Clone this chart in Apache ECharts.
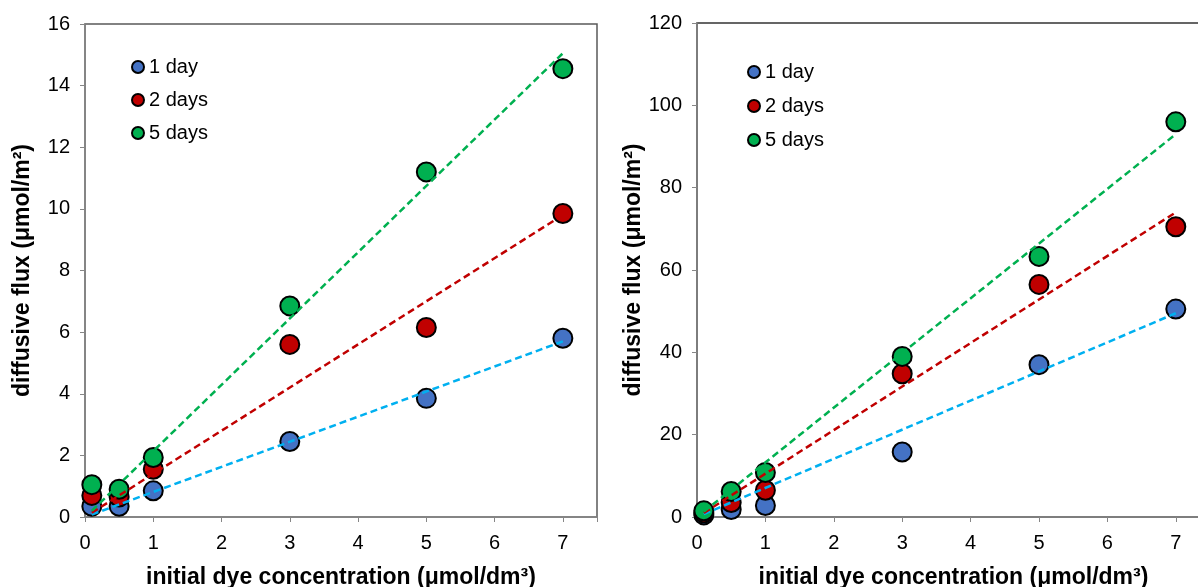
<!DOCTYPE html>
<html>
<head>
<meta charset="utf-8">
<script src="https://cdn.jsdelivr.net/npm/echarts@6/dist/echarts.min.js"></script>
<style>
  html, body { margin: 0; padding: 0; background: #fff; }
  #main { width: 1198px; height: 587px; }
</style>
</head>
<body>
<div id="main"></div>
<script>
// concentrations (x values)
var conc = [0.1, 0.5, 1, 3, 5, 7];
var seriesNames = ['1 day', '2 days', '5 days'];

// left chart values
var leftDay1 = [0.35, 0.35, 0.85, 2.45, 3.85, 5.8];
var leftDay2 = [0.7, 0.65, 1.55, 5.6, 6.15, 9.85];
var leftDay5 = [1.05, 0.9, 1.93, 6.85, 11.2, 14.55];
// left trend lines: value at x=0.1 and at x=7
var leftTrendDay1 = [0.08, 5.7];
var leftTrendDay2 = [0.14, 9.8];
var leftTrendDay5 = [0.2, 15.05];

// right chart values
var rightDay1 = [0.5, 1.8, 2.8, 15.8, 37, 50.5];
var rightDay2 = [1.0, 3.5, 6.5, 34.8, 56.5, 70.5];
var rightDay5 = [1.5, 6.2, 10.8, 39, 63.3, 96];
// right trend lines: value at x=0.1 and at x=7
var rightTrendDay1 = [0.7, 49.5];
var rightTrendDay2 = [1.0, 74];
var rightTrendDay5 = [1.3, 93];

var trendX = [0.1, 7];

var markerColors = ['#4472C4', '#C00000', '#00B050'];
var trendColors = ['#00B0F0', '#C00000', '#00B050'];

function pairs(xs, ys) {
    var out = [];
    for (var i = 0; i < xs.length; i++) {
        out.push([xs[i], ys[i]]);
    }
    return out;
}

function scatterSeries(name, idx, values, gridIdx) {
    return {
        name: name,
        type: 'scatter',
        xAxisIndex: gridIdx,
        yAxisIndex: gridIdx,
        symbolSize: 19,
        z: 3,
        itemStyle: { color: markerColors[idx], borderColor: '#000', borderWidth: 2, opacity: 1 },
        data: pairs(conc, values)
    };
}

function trendSeries(idx, values, gridIdx) {
    return {
        type: 'line',
        xAxisIndex: gridIdx,
        yAxisIndex: gridIdx,
        symbol: 'none',
        silent: true,
        z: 4,
        lineStyle: { color: trendColors[idx], width: 2.5, type: [7, 4] },
        data: pairs(trendX, values)
    };
}

var font = 'Liberation Sans, Arial, sans-serif';

function xAxisCfg(gridIdx) {
    return {
        type: 'value',
        gridIndex: gridIdx,
        min: 0,
        max: 7.5,
        interval: 1,
        name: 'initial dye concentration (μmol/dm³)',
        nameLocation: 'middle',
        nameGap: 49,
        nameTextStyle: { fontFamily: font, fontSize: 23, fontWeight: 'bold', color: '#000' },
        axisLine: { lineStyle: { color: '#868686', width: 1.5 } },
        axisTick: { show: true, length: 5, lineStyle: { color: '#868686' } },
        axisLabel: {
            fontFamily: font, fontSize: 20, color: '#000', margin: 16,
            formatter: function (v) { return Number.isInteger(v) ? String(v) : ''; }
        },
        splitLine: { show: false }
    };
}

function yAxisCfg(gridIdx, max, interval, gap) {
    return {
        type: 'value',
        gridIndex: gridIdx,
        min: 0,
        max: max,
        interval: interval,
        name: 'diffusive flux (μmol/m²)',
        nameLocation: 'middle',
        nameGap: gap,
        nameTextStyle: { fontFamily: font, fontSize: 23, fontWeight: 'bold', color: '#000' },
        axisLine: { show: true, lineStyle: { color: '#868686', width: 1.5 } },
        axisTick: { show: true, length: 5, lineStyle: { color: '#868686' } },
        axisLabel: { fontFamily: font, fontSize: 20, color: '#000', margin: 15 },
        splitLine: { show: false }
    };
}

function legendCfg(left, top, gap) {
    return {
        data: seriesNames,
        orient: 'vertical',
        left: left,
        top: top,
        itemWidth: 12,
        itemHeight: 12,
        itemGap: gap,
        icon: 'circle',
        selectedMode: false,
        textStyle: { fontFamily: font, fontSize: 20, color: '#000' }
    };
}

var dom = document.getElementById('main');
var myChart = echarts.init(dom);
var option = {
    backgroundColor: '#fff',
    animation: false,
    grid: [
        { left: 85, top: 24, width: 512, height: 493, show: true, borderColor: '#595959', borderWidth: 1.5, outerBoundsMode: 'none' },
        { left: 697, top: 23, width: 513, height: 494, show: true, borderColor: '#333', borderWidth: 1.5, outerBoundsMode: 'none' }
    ],
    legend: [legendCfg(126, 52, 13), legendCfg(742, 57, 14)],
    xAxis: [xAxisCfg(0), xAxisCfg(1)],
    yAxis: [yAxisCfg(0, 16, 2, 51), yAxisCfg(1, 120, 20, 50)],
    series: [
        scatterSeries(seriesNames[0], 0, leftDay1, 0),
        scatterSeries(seriesNames[1], 1, leftDay2, 0),
        scatterSeries(seriesNames[2], 2, leftDay5, 0),
        trendSeries(0, leftTrendDay1, 0),
        trendSeries(1, leftTrendDay2, 0),
        trendSeries(2, leftTrendDay5, 0),
        scatterSeries(seriesNames[0], 0, rightDay1, 1),
        scatterSeries(seriesNames[1], 1, rightDay2, 1),
        scatterSeries(seriesNames[2], 2, rightDay5, 1),
        trendSeries(0, rightTrendDay1, 1),
        trendSeries(1, rightTrendDay2, 1),
        trendSeries(2, rightTrendDay5, 1)
    ]
};
myChart.setOption(option, true);
</script>
</body>
</html>
